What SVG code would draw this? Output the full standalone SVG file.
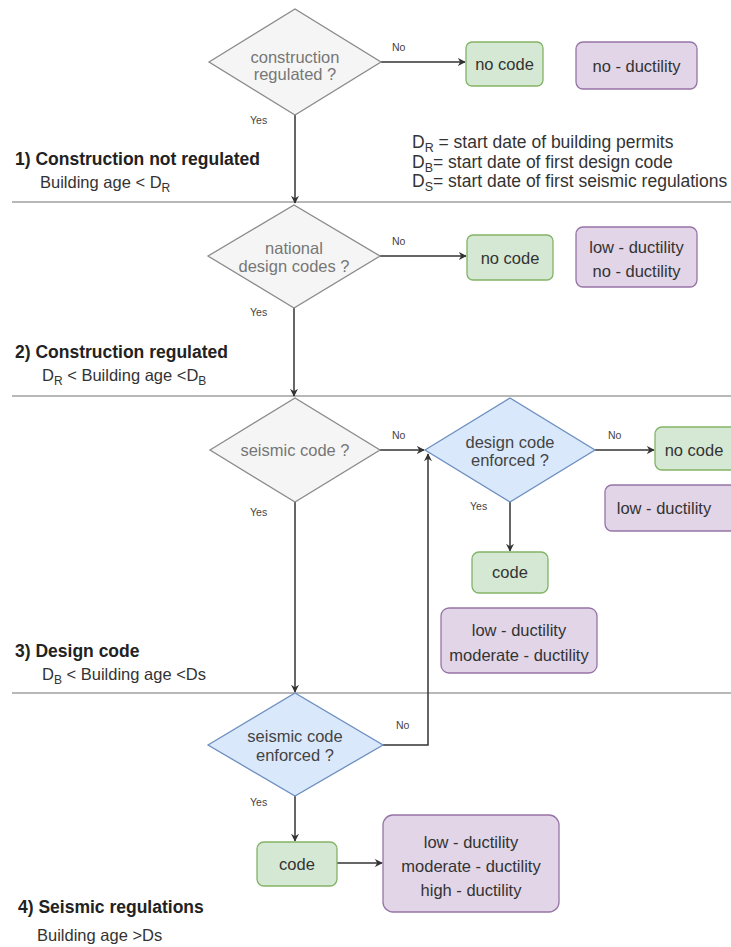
<svg xmlns="http://www.w3.org/2000/svg" width="731" height="947" viewBox="0 0 731 947">
<defs>
<marker id="arr" viewBox="0 0 10 10" refX="9" refY="5" markerWidth="8" markerHeight="8" markerUnits="userSpaceOnUse" orient="auto">
<path d="M0,0 L10,5 L0,10 L3,5 z" fill="#333"/>
</marker>
<style>
text{font-family:"Liberation Sans",Arial,sans-serif}
.sep{stroke:#a0a0a0;stroke-width:1.5;fill:none}
.gd{fill:#f5f5f5;stroke:#8a8a8a;stroke-width:1.3}
.bd{fill:#dae8fc;stroke:#6c8ebf;stroke-width:1.3}
.gr{fill:#d5e8d4;stroke:#82b366;stroke-width:1.3}
.pu{fill:#e1d5e7;stroke:#9673a6;stroke-width:1.3}
.t{font-size:16.5px;fill:#333;text-anchor:middle}
.tg{font-size:16.5px;fill:#777;text-anchor:middle}
.tb{font-size:16.5px;fill:#444;text-anchor:middle}
.lbl{font-size:10.5px;fill:#444}
.h{font-size:17.5px;font-weight:bold;fill:#222}
.s{font-size:16.5px;fill:#333}
.lg{font-size:17.5px;fill:#333}
.c{stroke:#333;stroke-width:1.5;fill:none;marker-end:url(#arr)}
</style>
</defs>
<rect width="731" height="947" fill="#fff"/>

<g id="separators">
<line class="sep" x1="12" y1="202" x2="731" y2="202"/>
<line class="sep" x1="12" y1="396" x2="731" y2="396"/>
<line class="sep" x1="12" y1="693" x2="731" y2="693"/>
</g>

<g id="section-labels">
<text class="h" x="15" y="165">1) Construction not regulated</text>
<text class="s" x="40" y="188">Building age &lt; D<tspan dy="4" font-size="12">R</tspan></text>
<text class="h" x="15" y="358">2) Construction regulated</text>
<text class="s" x="42" y="381">D<tspan dy="4" font-size="12">R</tspan><tspan dy="-4"> &lt; Building age &lt;D</tspan><tspan dy="4" font-size="12">B</tspan></text>
<text class="h" x="15" y="657">3) Design code</text>
<text class="s" x="42" y="680">D<tspan dy="4" font-size="12">B</tspan><tspan dy="-4"> &lt; Building age &lt;Ds</tspan></text>
<text class="h" x="18" y="913">4) Seismic regulations</text>
<text class="s" x="37" y="941">Building age &gt;Ds</text>
</g>

<g id="legend">
<text class="lg" x="412" y="148">D<tspan dy="4" font-size="12.5">R</tspan><tspan dy="-4"> = start date of building permits</tspan></text>
<text class="lg" x="412" y="168">D<tspan dy="4" font-size="12.5">B</tspan><tspan dy="-4">= start date of first design code</tspan></text>
<text class="lg" x="412" y="187">D<tspan dy="4" font-size="12.5">S</tspan><tspan dy="-4">= start date of first seismic regulations</tspan></text>
</g>

<g id="connectors">
<line class="c" x1="381" y1="62" x2="465" y2="62"/>
<line class="c" x1="295" y1="115" x2="295" y2="203"/>
<line class="c" x1="380" y1="256" x2="466" y2="256"/>
<line class="c" x1="294" y1="308" x2="294" y2="396"/>
<line class="c" x1="380" y1="450" x2="424" y2="450"/>
<line class="c" x1="595" y1="450" x2="654" y2="450"/>
<line class="c" x1="510" y1="502" x2="510" y2="551"/>
<line class="c" x1="295" y1="502" x2="295" y2="692"/>
<polyline class="c" points="383,745 428,745 428,454"/>
<line class="c" x1="295" y1="796" x2="295" y2="841"/>
<line class="c" x1="337" y1="863" x2="382" y2="863"/>
<text class="lbl" x="392" y="51">No</text>
<text class="lbl" x="250" y="124">Yes</text>
<text class="lbl" x="392" y="245">No</text>
<text class="lbl" x="250" y="316">Yes</text>
<text class="lbl" x="392" y="439">No</text>
<text class="lbl" x="250" y="516">Yes</text>
<text class="lbl" x="608" y="439">No</text>
<text class="lbl" x="470" y="510">Yes</text>
<text class="lbl" x="396" y="729">No</text>
<text class="lbl" x="250" y="806">Yes</text>
</g>

<g id="construction-regulated">
<polygon class="gd" points="209,62 295,9 381,62 295,115"/>
<text class="tg" x="295" y="63">construction</text>
<text class="tg" x="295" y="80">regulated ?</text>
</g>
<g id="no-code-1">
<rect class="gr" x="466" y="42" width="77" height="44" rx="6"/>
<text class="t" x="504.5" y="70">no code</text>
</g>
<g id="duct-1">
<rect class="pu" x="576" y="42" width="121" height="47" rx="7"/>
<text class="t" x="636.5" y="72">no - ductility</text>
</g>

<g id="national-design-codes">
<polygon class="gd" points="208,256 294,205 380,256 294,308"/>
<text class="tg" x="294" y="254">national</text>
<text class="tg" x="294" y="272">design codes ?</text>
</g>
<g id="no-code-2">
<rect class="gr" x="467" y="235" width="86" height="45" rx="6"/>
<text class="t" x="510" y="264">no code</text>
</g>
<g id="duct-2">
<rect class="pu" x="576" y="227" width="121" height="60" rx="7"/>
<text class="t" x="636.5" y="253">low - ductility</text>
<text class="t" x="636.5" y="277">no - ductility</text>
</g>

<g id="seismic-code">
<polygon class="gd" points="210,450 295,398 380,450 295,502"/>
<text class="tg" x="295" y="456">seismic code ?</text>
</g>
<g id="design-code-enforced">
<polygon class="bd" points="425,450 510,398 595,450 510,502"/>
<text class="tb" x="510" y="448">design code</text>
<text class="tb" x="510" y="466">enforced ?</text>
</g>
<g id="no-code-3">
<rect class="gr" x="655" y="427" width="85" height="43" rx="7"/>
<text class="t" x="694" y="456">no code</text>
</g>
<g id="duct-3">
<rect class="pu" x="605" y="485" width="135" height="46" rx="7"/>
<text class="t" x="664" y="514">low - ductility</text>
</g>
<g id="code-1">
<rect class="gr" x="472" y="552" width="76" height="41" rx="7"/>
<text class="t" x="510" y="578">code</text>
</g>
<g id="duct-4">
<rect class="pu" x="441" y="608" width="156" height="65" rx="8"/>
<text class="t" x="519" y="636">low - ductility</text>
<text class="t" x="519" y="661">moderate - ductility</text>
</g>

<g id="seismic-code-enforced">
<polygon class="bd" points="208,745 295,693 383,745 295,796"/>
<text class="tb" x="295" y="742">seismic code</text>
<text class="tb" x="295" y="761">enforced ?</text>
</g>
<g id="code-2">
<rect class="gr" x="257" y="842" width="80" height="44" rx="7"/>
<text class="t" x="297" y="870">code</text>
</g>
<g id="duct-5">
<rect class="pu" x="383" y="815" width="176" height="97" rx="10"/>
<text class="t" x="471" y="848">low - ductility</text>
<text class="t" x="471" y="872">moderate - ductility</text>
<text class="t" x="471" y="896">high - ductility</text>
</g>
</svg>
